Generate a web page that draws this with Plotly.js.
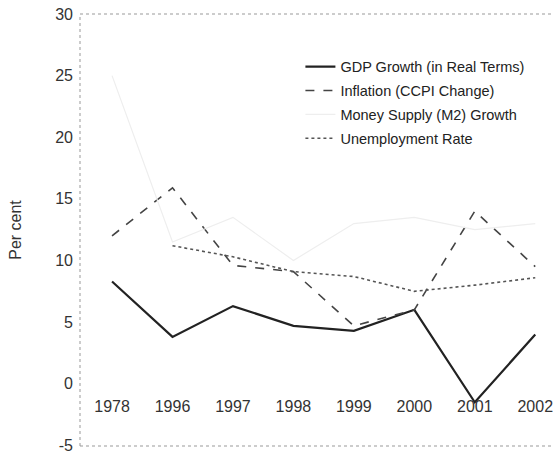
<!DOCTYPE html>
<html>
<head>
<meta charset="utf-8">
<script src="https://cdn.plot.ly/plotly-3.0.1.min.js"></script>
<style>html,body{margin:0;padding:0;background:#fff;}#chart{width:555px;height:455px;}</style>
</head>
<body>
<div id="chart"></div>
<script>
const years = ["1978", "1996", "1997", "1998", "1999", "2000", "2001", "2002"];
const gdpGrowth = [8.3, 3.8, 6.3, 4.7, 4.3, 6.0, -1.5, 4.0];
const inflation = [12.0, 15.9, 9.6, 9.1, 4.7, 6.0, 14.0, 9.5];
const moneySupply = [25.0, 11.5, 13.5, 10.0, 13.0, 13.5, 12.5, 13.0];
const unemployment = [null, 11.2, 10.3, 9.1, 8.7, 7.5, 8.0, 8.6];
const yTicks = [-5, 0, 5, 10, 15, 20, 25, 30];

const traces = [
  {x: years, y: gdpGrowth, name: "GDP Growth (in Real Terms)", type: "scatter", mode: "lines",
   line: {color: "#222", width: 2.2}, legendgroup: "a"},
  {x: years, y: inflation, name: "Inflation (CCPI Change)", type: "scatter", mode: "lines",
   line: {color: "#444", width: 1.6, dash: "dash"}, legendgroup: "b"},
  {x: years, y: moneySupply, name: "Money Supply (M2) Growth", type: "scatter", mode: "lines",
   line: {color: "#eeeeee", width: 1.2}, legendgroup: "c"},
  {x: years, y: unemployment, name: "Unemployment Rate", type: "scatter", mode: "lines",
   line: {color: "#555", width: 1.6, dash: "dot"}, legendgroup: "d"}
];

const layout = {
  width: 555, height: 455,
  margin: {l: 80, r: 1, t: 14, b: 9},
  paper_bgcolor: "#fff", plot_bgcolor: "#fff",
  font: {family: "Liberation Sans, Arial, sans-serif", size: 16, color: "#333"},
  showlegend: true,
  legend: {
    x: 0.465, y: 0.915, xanchor: "left", yanchor: "top",
    bgcolor: "rgba(0,0,0,0)", borderwidth: 0,
    traceorder: "grouped", tracegroupgap: 2,
    font: {family: "Liberation Sans, Arial, sans-serif", size: 14.5, color: "#222"}
  },
  xaxis: {
    type: "category", range: [-0.53, 7.31],
    anchor: "free", position: 5/35,
    showline: false, showgrid: false, zeroline: false, ticks: "",
    ticklabelstandoff: 11,
    tickfont: {size: 16, color: "#333"}
  },
  yaxis: {
    range: [-5.05, 30], tickvals: yTicks, ticktext: yTicks.map(String),
    showline: false, showgrid: false, zeroline: false, ticks: "",
    ticklabelstandoff: 6, ticklabeloverflow: "allow",
    tickfont: {size: 16, color: "#333"},
    title: {text: "Per cent", standoff: 29, font: {size: 16, color: "#333"}}
  },
  shapes: [
    {type: "line", xref: "paper", yref: "paper", x0: 0, x1: 0, y0: 0, y1: 1,
     line: {color: "#999", width: 1, dash: "dot"}},
    {type: "line", xref: "paper", yref: "paper", x0: 0, x1: 1, y0: 1, y1: 1,
     line: {color: "#999", width: 1, dash: "dot"}},
    {type: "line", xref: "paper", yref: "paper", x0: 0, x1: 1, y0: 0, y1: 0,
     line: {color: "#999", width: 1, dash: "dot"}}
  ]
};

Plotly.newPlot("chart", traces, layout, {displayModeBar: false, staticPlot: true});
</script>
</body>
</html>
